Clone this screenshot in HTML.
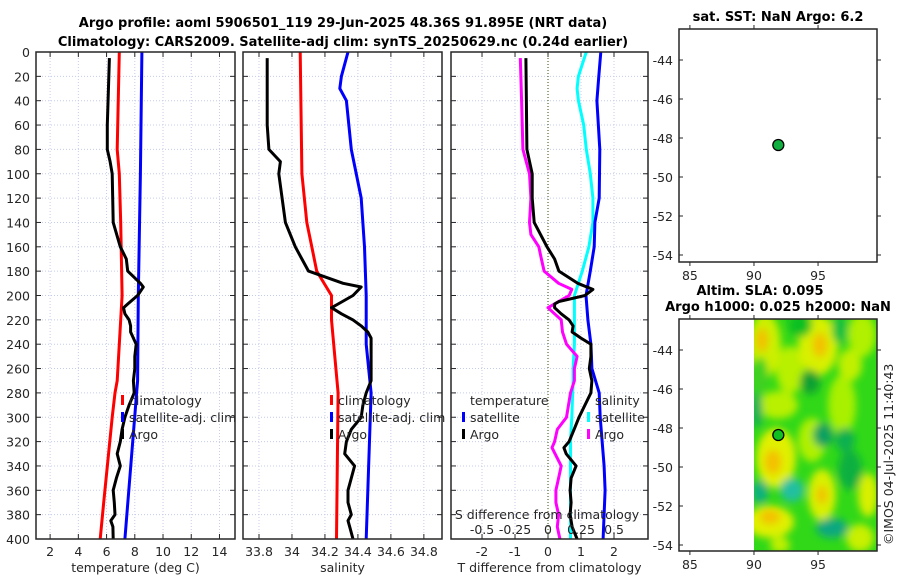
<!DOCTYPE html>
<html><head><meta charset="utf-8">
<style>
body{margin:0;background:#fff;}
svg{display:block;font-family:"DejaVu Sans","Liberation Sans",sans-serif;}
.tk{font-size:12.5px;fill:#262626;}
.ttl{font-size:13px;font-weight:bold;fill:#000;}
</style></head><body>
<svg id="chart" width="900" height="580" viewBox="0 0 900 580" xmlns="http://www.w3.org/2000/svg">
<text class="ttl" x="343" y="27" text-anchor="middle">Argo profile: aoml 5906501_119 29-Jun-2025 48.36S 91.895E (NRT data)</text>
<text class="ttl" x="343" y="46" text-anchor="middle">Climatology: CARS2009. Satellite-adj clim: synTS_20250629.nc (0.24d earlier)</text>
<g id="g"></g>
</svg>
<script>
// ---- data ----
const depthTicks=[0,20,40,60,80,100,120,140,160,180,200,220,240,260,280,300,320,340,360,380,400];
const tempTicks=[2,4,6,8,10,12,14];
const salTicks=[33.8,34,34.2,34.4,34.6,34.8];
const salTickLabels=["33.8","34","34.2","34.4","34.6","34.8"];
const tdTicks=[-2,-1,0,1,2];
const sdTicks=[-0.5,-0.25,0,0.25,0.5];
const sdTickLabels=["-0.5","-0.25","0","0.25","0.5"];
const lonTicks=[85,90,95];
const latTicks=[-44,-46,-48,-50,-52,-54];

const climDepth=[0,80,100,140,200,220,270,280,300,370,400];
const climTemp=[6.9,6.75,6.9,7.0,7.1,7.0,6.75,6.6,6.4,5.8,5.55];
const satDepth=[0,100,200,270,400];
const satTemp=[8.5,8.4,8.25,8.2,7.3];

const argoDepth=[5,60,80,90,100,140,160,170,180,190,193,200,207,210,215,220,225,230,235,240,250,260,270,280,290,300,310,320,330,340,350,360,370,380,385,390,400];
const argoTemp=[6.2,6.05,6.05,6.25,6.4,6.47,6.97,7.4,7.5,8.4,8.6,8.2,7.5,7.2,7.3,7.6,7.7,7.7,7.9,8.1,8.0,8.0,7.9,7.96,7.6,7.3,7.1,6.97,6.75,6.97,6.7,6.47,6.55,6.6,6.3,6.45,6.47];
const argoSal=[33.85,33.85,33.86,33.93,33.92,33.96,34.02,34.06,34.10,34.31,34.42,34.37,34.28,34.24,34.30,34.37,34.42,34.46,34.48,34.48,34.48,34.48,34.48,34.45,34.43,34.42,34.36,34.33,34.32,34.38,34.36,34.34,34.34,34.36,34.34,34.35,34.37];

const climSalDepth=[0,100,140,160,180,200,220,280,400];
const climSal=[34.05,34.06,34.09,34.12,34.15,34.24,34.24,34.28,34.27];
const satSalDepth=[0,20,30,40,80,120,160,200,240,280,400];
const satSal=[34.34,34.3,34.29,34.33,34.36,34.42,34.44,34.45,34.45,34.48,34.45];

const tdArgoDepth=[5,80,100,120,140,160,170,180,190,195,200,205,207,210,215,220,225,230,235,240,250,260,270,280,300,310,320,325,330,340,350,360,370,380,390,400];
const tdArgo=[-0.67,-0.64,-0.48,-0.48,-0.42,-0.03,0.2,0.33,0.9,1.36,1.12,0.33,0.2,0.2,0.4,0.64,0.76,0.73,1.0,1.3,1.3,1.25,1.33,1.3,0.94,0.79,0.64,0.48,0.55,0.85,0.7,0.67,0.7,0.67,0.73,0.88];
const tdSatDepth=[0,20,40,80,120,140,160,180,200,220,240,260,280,300,340,360,400];
const tdSat=[1.6,1.54,1.48,1.57,1.55,1.42,1.4,1.28,1.15,1.21,1.3,1.33,1.55,1.58,1.7,1.73,1.67];
const sdArgoDepth=[5,40,80,100,120,140,150,160,170,180,190,195,200,205,210,215,220,230,240,250,260,270,280,300,310,320,325,340,350,360,370,380,390,400];
const sdArgo=[-0.21,-0.2,-0.19,-0.14,-0.13,-0.14,-0.13,-0.07,-0.05,-0.03,0.08,0.18,0.16,0.08,0.0,0.05,0.1,0.11,0.14,0.22,0.2,0.2,0.17,0.14,0.07,0.05,0.03,0.10,0.08,0.06,0.06,0.08,0.07,0.09];
const sdSatDepth=[0,20,30,40,60,80,100,120,140,160,180,200,220,240,260,270,300,320,360,400];
const sdSat=[0.29,0.23,0.22,0.23,0.27,0.29,0.32,0.34,0.34,0.31,0.26,0.2,0.2,0.2,0.19,0.19,0.18,0.17,0.17,0.17];

const floatLon=[91.9];
const floatLat=[-48.36];

// ---- drawing ----
const NS='http://www.w3.org/2000/svg';
const G=document.getElementById('g');
function mk(tag,attrs,parent){const e=document.createElementNS(NS,tag);for(const k in attrs)e.setAttribute(k,attrs[k]);(parent||G).appendChild(e);return e;}
const Y0=52,Y1=539;
const yD=d=>Y0+d*(Y1-Y0)/400;
function lin(d0,d1,p0,p1){return v=>p0+(v-d0)*(p1-p0)/(d1-d0);}

const panels=[
 {name:'temperature',L:36,R:235,x:lin(1,15.1,36,235),ticks:tempTicks,labels:tempTicks.map(String),xlabel:'temperature (deg C)'},
 {name:'salinity',L:243,R:442,x:lin(33.703,34.91,243,442),ticks:salTicks,labels:salTickLabels,xlabel:'salinity'},
 {name:'difference',L:451,R:648,x:lin(-2.94,3.03,451,648),ticks:tdTicks,labels:tdTicks.map(String),xlabel:'T difference from climatology'}
];
panels.forEach((p,pi)=>{
  const grp=mk('g',{});
  
  
  depthTicks.forEach(d=>{
    const l=mk('line',{x1:p.L,x2:p.R,y1:yD(d),y2:yD(d),stroke:'#c4ccec','stroke-width':1,'stroke-dasharray':'1,2'},grp);
    
    
    mk('line',{x1:p.L,x2:p.L+5,y1:yD(d),y2:yD(d),stroke:'#262626'},grp);
    mk('line',{x1:p.R,x2:p.R-5,y1:yD(d),y2:yD(d),stroke:'#262626'},grp);
    if(pi===0){const t=mk('text',{x:p.L-6,y:yD(d)+5,'text-anchor':'end',class:'tk'},grp);t.textContent=d;
      
      }
  });
  p.ticks.forEach((v,i)=>{
    const x=p.x(v);
    const l=mk('line',{x1:x,x2:x,y1:Y0,y2:Y1,stroke:'#c8cce8','stroke-width':1,'stroke-dasharray':'1,2'},grp);
    
    
    mk('line',{x1:x,x2:x,y1:Y1,y2:Y1-5,stroke:'#262626'},grp);
    mk('line',{x1:x,x2:x,y1:Y0,y2:Y0+5,stroke:'#262626'},grp);
    const t=mk('text',{x:x,y:Y1+17,'text-anchor':'middle',class:'tk'},grp);t.textContent=p.labels[i];
    
    
  });
  const xl=mk('text',{x:(p.L+p.R)/2,y:572,'text-anchor':'middle',class:'tk'},grp);xl.textContent=p.xlabel;
  
  
  p.grp=grp;
});
const P3=panels[2];
const z=mk('line',{x1:P3.x(0),x2:P3.x(0),y1:Y0,y2:Y1,stroke:'#556b2f','stroke-width':1.2,'stroke-dasharray':'1,2'});



function series(xf,depths,vals,color,name){
  const pts=depths.map((d,i)=>xf(vals[i]).toFixed(1)+','+yD(d).toFixed(1)).join(' ');
  const pl=mk('polyline',{points:pts,fill:'none',stroke:color,'stroke-width':3,'stroke-linejoin':'round'});
  
  
}
const sx=lin(-0.5,0.5,P3.x(-2),P3.x(2));
series(panels[0].x,climDepth,climTemp,'#ff0000','temp-climatology-line');
series(panels[0].x,satDepth,satTemp,'#0000ff','temp-satellite-line');
series(panels[0].x,argoDepth,argoTemp,'#000000','temp-argo-line');
series(panels[1].x,climSalDepth,climSal,'#ff0000','sal-climatology-line');
series(panels[1].x,satSalDepth,satSal,'#0000ff','sal-satellite-line');
series(panels[1].x,argoDepth,argoSal,'#000000','sal-argo-line');
series(sx,sdSatDepth,sdSat,'#00ffff','sdiff-satellite-line');
series(P3.x,tdSatDepth,tdSat,'#0000ff','tdiff-satellite-line');
series(sx,sdArgoDepth,sdArgo,'#ff00ff','sdiff-argo-line');
series(P3.x,tdArgoDepth,tdArgo,'#000000','tdiff-argo-line');

panels.forEach(p=>{const r=mk('rect',{x:p.L,y:Y0,width:p.R-p.L,height:Y1-Y0,fill:'none',stroke:'#262626','stroke-width':1.5});
  
  });

const sdt=mk('text',{x:547,y:519,'text-anchor':'middle',class:'tk'});sdt.textContent='S difference from climatology';


sdTicks.forEach((v,i)=>{const t=mk('text',{x:sx(v),y:534,'text-anchor':'middle',class:'tk'});t.textContent=sdTickLabels[i];
  
  });

function leg(x,y,color,label,name){
  if(color){mk('rect',{x:x,y:y-10,width:3,height:10,fill:color});}
  const t=mk('text',{x:x+8,y:y,class:'tk'});t.textContent=label;
  
  
}
leg(121,405,'#ff0000','climatology','legend-climatology');
leg(121,422,'#0000ff','satellite-adj. clim','legend-satellite');
leg(121,439,'#000000','Argo','legend-argo');
leg(330,405,'#ff0000','climatology','legend-sal-climatology');
leg(330,422,'#0000ff','satellite-adj. clim','legend-sal-satellite');
leg(330,439,'#000000','Argo','legend-sal-argo');
leg(462,405,null,'temperature','legend-temperature-heading');
leg(462,422,'#0000ff','satellite','legend-tdiff-satellite');
leg(462,439,'#000000','Argo','legend-tdiff-argo');
leg(587,405,null,'salinity','legend-salinity-heading');
leg(587,422,'#00ffff','satellite','legend-sdiff-satellite');
leg(587,439,'#ff00ff','Argo','legend-sdiff-argo');

const mapL=679,mapR=877;
const lonX=lin(84.15,99.6,mapL,mapR);
function buildMap(T,B,latAt44,name,titles,field){
  const latY=lin(-44,-54,latAt44,latAt44+195);
  const grp=mk('g',{});
  
  
  if(field){
    const x90=lonX(90);
    const defs=mk('defs',{},grp);
    const f=mk('filter',{id:'bl',x:'-30%',y:'-30%',width:'160%',height:'160%'},defs);
    mk('feGaussianBlur',{stdDeviation:4},f);
    const cp=mk('clipPath',{id:'cp'},defs);
    mk('rect',{x:x90,y:T,width:mapR-x90,height:B-T},cp);
    const fg=mk('g',{'clip-path':'url(#cp)'},grp);
    
    
    mk('rect',{x:x90,y:T,width:mapR-x90,height:B-T,fill:'#30d818'},fg);
    const bg=mk('g',{filter:'url(#bl)'},fg);
    const blobs=[
      [765,345,16,32,'#ccf000'],[790,370,14,24,'#b8f000'],[818,345,20,30,'#d8f000'],[862,335,14,22,'#b0f000'],
      [760,375,8,18,'#40d020'],[778,405,20,14,'#b8f000'],[842,405,14,30,'#a8f000'],[812,440,14,22,'#b0f000'],
      [776,458,20,30,'#e0f000'],[822,495,14,26,'#d8f000'],[770,522,24,16,'#e0f000'],[868,495,10,22,'#d8f000'],
      [860,538,14,14,'#c8f000'],[780,545,10,8,'#c0f000'],[850,365,12,16,'#c0f000'],
      [810,382,10,12,'#10a030'],[823,435,10,12,'#10a060'],[792,490,12,12,'#20c0a0'],[760,492,8,12,'#10b080'],
      [832,528,16,10,'#10a880'],[850,470,12,20,'#10b040'],[757,410,5,18,'#10a860'],[845,440,10,12,'#10b050'],
      [800,325,12,12,'#10c020'],[840,330,8,14,'#10c040']];
    blobs.forEach(b=>mk('ellipse',{cx:b[0],cy:b[1],rx:b[2],ry:b[3],fill:b[4]},bg));
    const og=mk('g',{filter:'url(#bl)'},fg);
    [[762,340,6,12],[820,345,7,12],[773,462,8,12],[770,517,10,7],[822,495,5,9]].forEach(b=>mk('ellipse',{cx:b[0],cy:b[1],rx:b[2],ry:b[3],fill:'#f4c000'},og));
  }
  latTicks.forEach(v=>{const y=latY(v);
    mk('line',{x1:mapL,x2:mapL+4,y1:y,y2:y,stroke:'#262626'},grp);
    mk('line',{x1:mapR,x2:mapR+4,y1:y,y2:y,stroke:'#262626'},grp);
    const t=mk('text',{x:mapL-6,y:y+5,'text-anchor':'end',class:'tk'},grp);t.textContent=v;
    
    });
  lonTicks.forEach(v=>{const x=lonX(v);
    mk('line',{x1:x,x2:x,y1:B,y2:B+4,stroke:'#262626'},grp);
    mk('line',{x1:x,x2:x,y1:T,y2:T-4,stroke:'#262626'},grp);
    const t=mk('text',{x:x,y:B+18,'text-anchor':'middle',class:'tk'},grp);t.textContent=v;
    
    });
  mk('rect',{x:mapL,y:T,width:mapR-mapL,height:B-T,fill:'none',stroke:'#262626','stroke-width':1.5},grp);
  titles.forEach((s,i)=>{const t=mk('text',{x:titles.length>1&&i===0?760:778,y:T-8-(titles.length-1-i)*16,'text-anchor':'middle',class:'ttl'},grp);t.textContent=s;
    
    });
  const c=mk('circle',{cx:lonX(floatLon[0]),cy:latY(floatLat[0]),r:5.5,fill:field?'#10c020':'#10b040',stroke:'#000','stroke-width':1.3},grp);
  
  
}
buildMap(29,262,60,'sst-map',['sat. SST: NaN Argo: 6.2'],false);
buildMap(319,551,350,'sla-map',['Altim. SLA: 0.095','Argo h1000: 0.025 h2000: NaN'],true);

const cr=mk('text',{x:0,y:0,class:'tk',transform:'translate(893,545) rotate(-90)'});
cr.textContent='©IMOS 04-Jul-2025 11:40:43';


</script>
</body></html>
